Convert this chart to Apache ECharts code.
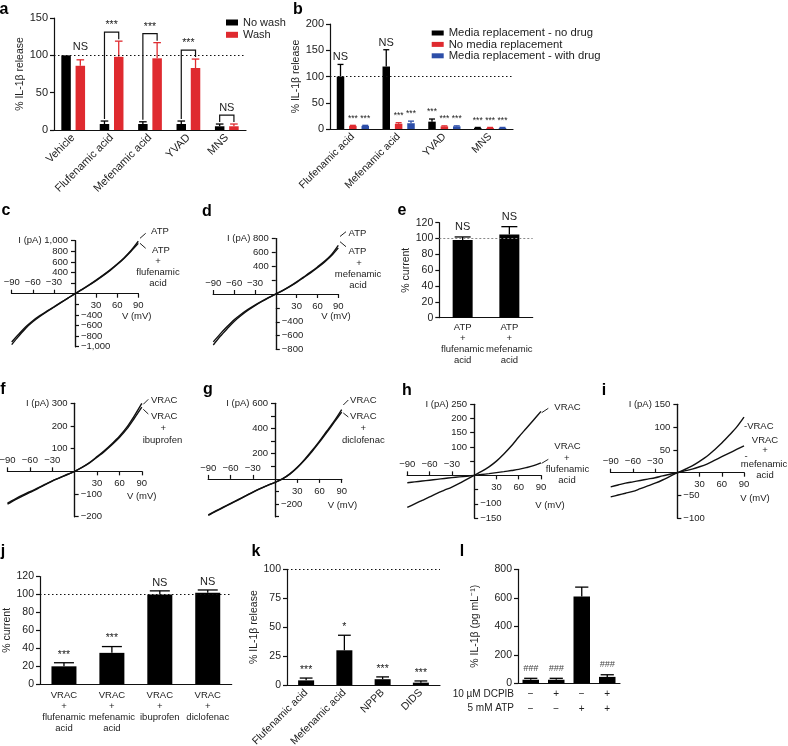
<!DOCTYPE html>
<html><head><meta charset="utf-8">
<script src="https://cdn.jsdelivr.net/npm/echarts@6/dist/echarts.min.js"></script>
<style>html,body{margin:0;padding:0;background:#fff}#chart{width:788px;height:746px}</style>
</head><body><div id="chart"></div>
<script>
// ---------------- DATA ----------------
// Panel a
const aCategories = ['Vehicle', 'Flufenamic acid', 'Mefenamic acid', 'YVAD', 'MNS'];
const aNoWash = [100, 8, 8, 8, 5];
const aNoWashErr = [0, 4, 3, 4, 3];
const aWash = [86, 98, 96, 83, 5];
const aWashErr = [8, 21, 21, 12, 3];
const aWashSig = ['NS', '', '', '', ''];
const aBracketCats = [1, 2, 3, 4];
const aBracketText = ['***', '***', '***', 'NS'];
const aYTicks = [0, 50, 100, 150];
// Panel b
const bCategories = ['Flufenamic acid', 'Mefenamic acid', 'YVAD', 'MNS'];
const bNoDrug = [100, 119, 14, 2];
const bNoDrugErr = [23, 32, 5, 1];
const bNoDrugSig = ['NS', 'NS', '***', '***'];
const bNoReplace = [6, 10, 5, 2];
const bNoReplaceErr = [1, 2, 1, 1];
const bNoReplaceSig = ['***', '***', '***', '***'];
const bWithDrug = [6, 11, 5, 2];
const bWithDrugErr = [1, 4, 1, 1];
const bWithDrugSig = ['***', '***', '***', '***'];
const bYTicks = [0, 50, 100, 150, 200];
// Current-voltage traces (V in mV, I in pA)
const ivVoltage = [-90, -80, -70, -60, -50, -40, -30, -20, -10, 0, 10, 20, 30, 40, 50, 60, 70, 80, 90];
const cATP = [-960, -800, -650, -530, -430, -340, -255, -170, -85, 0, 80, 165, 255, 350, 450, 560, 680, 820, 990];
const cATPFluf = [-910, -765, -625, -510, -415, -330, -248, -165, -82, 0, 78, 160, 248, 340, 440, 550, 670, 805, 950];
const dATP = [-735, -610, -500, -395, -310, -235, -168, -108, -52, 0, 52, 110, 175, 245, 315, 390, 470, 565, 700];
const dATPMef = [-690, -575, -470, -372, -292, -222, -160, -103, -50, 0, 50, 106, 168, 236, 305, 378, 458, 550, 665];
const fVRAC = [-145, -126, -109, -93, -77, -60, -43, -29, -14, 0, 18, 39, 65, 92, 122, 155, 195, 245, 300];
const fVRACIbu = [-140, -122, -105, -90, -74, -58, -42, -28, -14, 0, 17, 37, 62, 88, 117, 149, 187, 234, 283];
const gVRAC = [-290, -258, -228, -198, -168, -137, -106, -78, -52, -27, 0, 40, 92, 155, 225, 300, 380, 460, 550];
const gVRACDiclo = [-285, -254, -224, -195, -165, -135, -104, -77, -51, -27, 0, 38, 89, 150, 218, 292, 370, 450, 530];
const hVRAC = [-113, -100, -88, -76, -63, -52, -41, -28, -14, 0, 14, 30, 50, 75, 103, 135, 165, 195, 225];
const hVRACFluf = [-26, -23, -20, -17, -14, -11, -8, -5.5, -3, 0, 3, 6, 9.5, 13, 17, 21, 27, 34, 44];
const iVRAC = [-53, -49, -45, -41, -35, -29, -23, -16, -8, 0, 7, 15, 25, 36, 50, 65, 82, 100, 122];
const iVRACMef = [-31, -27, -23, -20, -17, -14, -11, -7, -3.5, 0, 4, 8, 13, 19, 27, 35, 43, 51, 59];
const ivXNeg = [-90, -60, -30];
const ivXPos = [30, 60, 90];
// Panel e
const eCategories = ['ATP\n+\nflufenamic\nacid', 'ATP\n+\nmefenamic\nacid'];
const eCurrent = [98, 105];
const eErr = [4, 10];
const eSig = ['NS', 'NS'];
const eYTicks = [0, 20, 40, 60, 80, 100, 120];
// Panel j
const jCategories = ['VRAC\n+\nflufenamic\nacid', 'VRAC\n+\nmefenamic\nacid', 'VRAC\n+\nibuprofen', 'VRAC\n+\ndiclofenac'];
const jCurrent = [20, 35, 100, 102];
const jErr = [4, 7, 4, 3];
const jSig = ['***', '***', 'NS', 'NS'];
const jYTicks = [0, 20, 40, 60, 80, 100, 120];
// Panel k
const kCategories = ['Flufenamic acid', 'Mefenamic acid', 'NPPB', 'DIDS'];
const kRelease = [4, 30, 5, 2];
const kErr = [2, 13, 2, 1.5];
const kSig = ['***', '*', '***', '***'];
const kYTicks = [0, 25, 50, 75, 100];
// Panel l
const lDCPIB = ['\u2212', '+', '\u2212', '+'];
const lATP = ['\u2212', '\u2212', '+', '+'];
const lIL1b = [25, 25, 610, 45];
const lErr = [10, 10, 65, 15];
const lSig = ['###', '###', '', '###'];
const lYTicks = [0, 200, 400, 600, 800];

// ---------------- BUILD ----------------
const FONT = '"Liberation Sans", Arial, Helvetica, sans-serif';
const INK = '#111';
const TXT = '#222';
const RED = '#df2a2f';
const BLUE = '#2d4ea8';
const grids = [], xAxes = [], yAxes = [], series = [], graphics = [];

function fmtNum(v) {
  const s = String(Math.abs(v)).replace(/\B(?=(\d{3})+(?!\d))/g, ',');
  return (v < 0 ? '\u2212' : '') + s;
}
function addGrid(box) {
  grids.push({left: box[0], top: box[1], width: box[2], height: box[3],
    containLabel: false, outerBoundsMode: 'none'});
  return grids.length - 1;
}

function barPanel(p) {
  const gi = addGrid(p.box);
  const xi = xAxes.length, yi = yAxes.length;
  xAxes.push({type: 'category', gridIndex: gi, data: p.categories,
    axisLine: {onZero: false, lineStyle: {color: INK, width: 1.2}}, axisTick: {show: false},
    axisLabel: {interval: 0, rotate: p.rotate || 0, fontSize: p.catFont || 10.5, color: TXT,
      margin: p.catMargin == null ? 6 : p.catMargin, lineHeight: p.catLineHeight || 11, fontFamily: FONT}});
  yAxes.push({type: 'value', gridIndex: gi, min: p.yTicks[0], max: p.yTicks[p.yTicks.length - 1],
    interval: p.yTicks[1] - p.yTicks[0],
    axisLine: {show: true, lineStyle: {color: INK, width: 1.2}},
    axisTick: {show: true, length: 4, lineStyle: {color: INK, width: 1.2}},
    axisLabel: {fontSize: p.tickFont || 10.5, color: TXT, margin: 6, fontFamily: FONT}, splitLine: {show: false},
    name: p.yName, nameLocation: 'middle', nameGap: p.nameGap,
    nameTextStyle: {fontSize: 10.5, color: TXT, fontFamily: FONT}});
  const n = p.groups.length, w = p.barWidth, g = p.barGap || 0;
  const total = n * w + (n - 1) * g * w;
  const offs = p.groups.map((_, k) => -total / 2 + w / 2 + k * w * (1 + g));
  p.groups.forEach((grp, k) => {
    const s = {type: 'bar', name: grp.name, xAxisIndex: xi, yAxisIndex: yi, data: grp.values,
      barWidth: w, barGap: (g * 100) + '%', itemStyle: {color: grp.color}, z: 2, silent: true};
    if (k === 0 && p.refLine) {
      s.markLine = {silent: true, symbol: 'none', label: {show: false},
        lineStyle: p.refLine.style, data: [{yAxis: p.refLine.value}]};
    }
    series.push(s);
  });
  p.groups.forEach((grp, k) => {
    series.push({type: 'custom', xAxisIndex: xi, yAxisIndex: yi, z: 3, silent: true,
      data: grp.values.map((v, i) => [i, v, grp.errors[i]]), encode: {x: 0, y: 1},
      renderItem: (params, api) => {
        const e = api.value(2);
        if (!e) return null;
        const b = api.coord([api.value(0), api.value(1)]);
        const t = api.coord([api.value(0), api.value(1) + e]);
        const x = b[0] + offs[k], c = w * 0.4;
        const st = {stroke: grp.color, lineWidth: 1.3};
        return {type: 'group', children: [
          {type: 'line', shape: {x1: x, y1: b[1], x2: x, y2: t[1]}, style: st},
          {type: 'line', shape: {x1: x - c, y1: t[1], x2: x + c, y2: t[1]}, style: st}]};
      }});
  });
  p.groups.forEach((grp, k) => {
    if (!grp.sig) return;
    series.push({type: 'custom', xAxisIndex: xi, yAxisIndex: yi, z: 4, silent: true,
      data: grp.values.map((v, i) => [i, v + grp.errors[i]]), encode: {x: 0, y: 1},
      renderItem: (params, api) => {
        const s = grp.sig[params.dataIndex];
        if (!s) return null;
        const pt = api.coord([api.value(0), api.value(1)]);
        const star = s.indexOf('*') >= 0, hash = s.indexOf('#') >= 0;
        return {type: 'text', x: pt[0] + offs[k], y: pt[1] - (p.sigGap || 7),
          style: {text: s, fontSize: star ? p.starFont : (hash ? 9 : p.nsFont), fontFamily: FONT,
            fontStyle: hash ? 'italic' : 'normal',
            fill: hash ? '#444' : TXT, align: 'center', verticalAlign: 'middle',
            textAlign: 'center', textVerticalAlign: 'middle'}};
      }});
  });
  return {xi, yi, gi, offs};
}

// Current-voltage panel: axes cross at the origin (V = 0, I = 0)
function ivPanel(p) {
  const gi = addGrid(p.box);
  const width = p.box[2], height = p.box[3];
  const yFracAboveZero = p.y[1] / (p.y[1] - p.y[0]);
  const lineStyle = {color: INK, width: 1.2};
  const lbl = {fontSize: 9.5, color: TXT, fontFamily: FONT, formatter: fmtNum};
  xAxes.push({type: 'value', gridIndex: gi, position: 'top', min: -90, max: 90,
    offset: -height * yFracAboveZero,
    axisLine: {onZero: false, lineStyle}, splitLine: {show: false},
    axisTick: {customValues: ivXNeg, length: 4, lineStyle},
    axisLabel: Object.assign({customValues: ivXNeg, margin: 6}, lbl)});
  const xBot = xAxes.length;
  xAxes.push({type: 'value', gridIndex: gi, position: 'bottom', min: -90, max: 90,
    offset: -height * (1 - yFracAboveZero),
    axisLine: {onZero: false, lineStyle}, splitLine: {show: false},
    axisTick: {customValues: ivXPos, length: 4, lineStyle},
    axisLabel: Object.assign({customValues: ivXPos, margin: 7}, lbl)});
  const yL = yAxes.length;
  yAxes.push({type: 'value', gridIndex: gi, position: 'left', min: p.y[0], max: p.y[1],
    offset: -width / 2,
    axisLine: {onZero: false, lineStyle}, splitLine: {show: false},
    axisTick: {customValues: p.leftTicks, length: 4, lineStyle},
    axisLabel: Object.assign({}, lbl, {customValues: p.leftLabels, margin: 7,
      formatter: v => (v === p.y[1] ? 'I (pA) ' : '') + fmtNum(v)})});
  yAxes.push({type: 'value', gridIndex: gi, position: 'right', min: p.y[0], max: p.y[1],
    offset: -width / 2,
    axisLine: {onZero: false, lineStyle}, splitLine: {show: false},
    axisTick: {customValues: p.rightTicks, length: 4, lineStyle},
    axisLabel: Object.assign({customValues: p.rightLabels, margin: 6}, lbl)});
  p.traces.forEach(tr => {
    series.push({type: 'line', xAxisIndex: xBot, yAxisIndex: yL, silent: true,
      data: ivVoltage.map((v, i) => [v, tr[i]]), smooth: 0.3, showSymbol: false,
      lineStyle: {color: INK, width: 1.4}, z: 3});
  });
}

function txt(x, y, s, opt) {
  opt = opt || {};
  graphics.push({type: 'text', x: x, y: y, silent: true,
    style: {text: s, fontSize: opt.size || 9.5, fontWeight: opt.bold ? 'bold' : 'normal', fontFamily: FONT,
      fill: opt.color || TXT, align: opt.align || 'center', verticalAlign: 'middle',
      textAlign: opt.align || 'center', textVerticalAlign: 'middle'}});
}
function seg(x1, y1, x2, y2) {
  graphics.push({type: 'line', silent: true, shape: {x1, y1, x2, y2}, style: {stroke: '#222', lineWidth: 1}});
}

const dotted = {color: INK, width: 1.2, type: [1.5, 2.5]};

// ---- a ----
const aAx = barPanel({box: [54, 18, 192, 112], categories: aCategories, yTicks: aYTicks,
  yName: '% IL-1\u03b2 release', nameGap: 26, rotate: 45, catFont: 11, tickFont: 11, barWidth: 9.5, barGap: 0.5,
  sigGap: 13, nsFont: 11, starFont: 10.5, refLine: {value: 100, style: dotted},
  groups: [
    {name: 'No wash', values: aNoWash, errors: aNoWashErr, color: '#000'},
    {name: 'Wash', values: aWash, errors: aWashErr, color: RED, sig: aWashSig}]});
series.push({type: 'custom', xAxisIndex: aAx.xi, yAxisIndex: aAx.yi, silent: true, z: 4,
  data: aBracketCats.map(c => [c, aNoWash[c] + aNoWashErr[c], aWash[c] + aWashErr[c]]),
  encode: {x: 0, y: [1, 2]},
  renderItem: (params, api) => {
    const c = api.value(0);
    const L = api.coord([c, api.value(1)]), R = api.coord([c, api.value(2)]);
    const xl = L[0] + aAx.offs[0], xr = R[0] + aAx.offs[1];
    const yTop = Math.min(L[1], R[1]) - 9;
    const s = aBracketText[params.dataIndex];
    return {type: 'group', children: [
      {type: 'polyline', shape: {points: [[xl, L[1] - 2], [xl, yTop], [xr, yTop], [xr, R[1] - 2]]},
        style: {stroke: INK, lineWidth: 1.2, fill: null}},
      {type: 'text', x: (xl + xr) / 2, y: yTop - 7,
        style: {text: s, fontSize: s === 'NS' ? 11 : 10.5, fontFamily: FONT, fill: TXT,
          align: 'center', verticalAlign: 'middle', textAlign: 'center', textVerticalAlign: 'middle'}}]};
  }});

// ---- b ----
barPanel({box: [330, 24, 183, 105], categories: bCategories, yTicks: bYTicks,
  yName: '% IL-1\u03b2 release', nameGap: 25, rotate: 45, catFont: 10.5, tickFont: 11, barWidth: 7.5, barGap: 0.65,
  sigGap: 7, nsFont: 11, starFont: 8.5, refLine: {value: 100, style: dotted},
  groups: [
    {name: 'Media replacement - no drug', values: bNoDrug, errors: bNoDrugErr, color: '#000', sig: bNoDrugSig},
    {name: 'No media replacement', values: bNoReplace, errors: bNoReplaceErr, color: RED, sig: bNoReplaceSig},
    {name: 'Media replacement - with drug', values: bWithDrug, errors: bWithDrugErr, color: BLUE, sig: bWithDrugSig}]});

// ---- c, d ----
ivPanel({box: [11.7, 240.7, 126.6, 106], y: [-1000, 1000],
  leftTicks: [200, 400, 600, 800, 1000], leftLabels: [400, 600, 800, 1000],
  rightTicks: [-200, -400, -600, -800, -1000], rightLabels: [-400, -600, -800, -1000],
  traces: [cATP, cATPFluf]});
ivPanel({box: [213.3, 238.5, 125, 111], y: [-800, 800],
  leftTicks: [200, 400, 600, 800], leftLabels: [400, 600, 800],
  rightTicks: [-200, -400, -600, -800], rightLabels: [-400, -600, -800],
  traces: [dATP, dATPMef]});

// ---- e ----
barPanel({box: [439.3, 222.7, 93.4, 95], categories: eCategories, yTicks: eYTicks,
  yName: '% current', nameGap: 27, catFont: 9.5, tickFont: 10.5, catMargin: 4, catLineHeight: 11,
  barWidth: 20, sigGap: 10, nsFont: 11, starFont: 10,
  refLine: {value: 100, style: {color: '#888', width: 1, type: [2, 2]}},
  groups: [{name: 'e', values: eCurrent, errors: eErr, color: '#000', sig: eSig}]});

// ---- f, g, h, i ----
ivPanel({box: [7.5, 403.3, 134.3, 113.4], y: [-200, 300],
  leftTicks: [100, 200, 300], leftLabels: [100, 200, 300],
  rightTicks: [-100, -200], rightLabels: [-100, -200], traces: [fVRAC, fVRACIbu]});
ivPanel({box: [208.3, 403.3, 133.4, 113.4], y: [-300, 600],
  leftTicks: [100, 200, 300, 400, 500, 600], leftLabels: [200, 400, 600],
  rightTicks: [-100, -200, -300], rightLabels: [-200], traces: [gVRAC, gVRACDiclo]});
ivPanel({box: [407.3, 404.3, 133.7, 113.7], y: [-150, 250],
  leftTicks: [50, 100, 150, 200, 250], leftLabels: [100, 150, 200, 250],
  rightTicks: [-50, -100, -150], rightLabels: [-100, -150], traces: [hVRAC, hVRACFluf]});
ivPanel({box: [610.7, 404.3, 133.3, 114], y: [-100, 150],
  leftTicks: [50, 100, 150], leftLabels: [50, 100, 150],
  rightTicks: [-50, -100], rightLabels: [-50, -100], traces: [iVRAC, iVRACMef]});

// ---- j ----
barPanel({box: [40, 576.5, 191.7, 107.8], categories: jCategories, yTicks: jYTicks,
  yName: '% current', nameGap: 25.5, catFont: 9.5, tickFont: 10.5, catMargin: 6, catLineHeight: 11,
  barWidth: 25, sigGap: 8, nsFont: 11, starFont: 10.5, refLine: {value: 100, style: dotted},
  groups: [{name: 'j', values: jCurrent, errors: jErr, color: '#000', sig: jSig}]});
// ---- k ----
barPanel({box: [287, 569.3, 153, 115.7], categories: kCategories, yTicks: kYTicks,
  yName: '% IL-1\u03b2 release', nameGap: 18, rotate: 45, catFont: 10.5, tickFont: 10.5,
  barWidth: 16, sigGap: 8, nsFont: 11, starFont: 10.5, refLine: {value: 100, style: dotted},
  groups: [{name: 'k', values: kRelease, errors: kErr, color: '#000', sig: kSig}]});
// ---- l ----
barPanel({box: [518, 569.3, 102, 114], categories: lDCPIB.map((d, i) => d + '\n' + lATP[i]), yTicks: lYTicks,
  yName: '% IL-1\u03b2 (pg mL\u207b\u00b9)', nameGap: 37, catFont: 10, tickFont: 10.5, catMargin: 4, catLineHeight: 14.3,
  barWidth: 16.5, sigGap: 10, nsFont: 11, starFont: 10,
  groups: [{name: 'l', values: lIL1b, errors: lErr, color: '#000', sig: lSig}]});

// ---------------- TEXT ----------------
[['a', 4, 10], ['b', 298, 10], ['c', 6, 211], ['d', 207, 212], ['e', 402, 211], ['f', 3, 390],
 ['g', 208, 390], ['h', 407, 391], ['i', 604, 391], ['j', 3, 552], ['k', 256, 552], ['l', 462, 552]]
  .forEach(t => txt(t[1], t[2], t[0], {size: 16, bold: true, color: '#000'}));

txt(136.7, 316.7, 'V (mV)'); txt(336, 316.7, 'V (mV)'); txt(141.7, 496.7, 'V (mV)');
txt(342.5, 505.7, 'V (mV)'); txt(550, 505, 'V (mV)'); txt(755, 498.3, 'V (mV)');
// c
txt(151, 231, 'ATP', {align: 'left'}); txt(161, 250, 'ATP'); txt(158, 261.5, '+'); txt(158, 272, 'flufenamic'); txt(158, 283, 'acid');
seg(140, 238.3, 145.7, 233.3); seg(140, 243.3, 145.7, 248.3);
// d
txt(357.5, 233, 'ATP'); txt(357.5, 251.7, 'ATP'); txt(359, 263, '+'); txt(358, 274, 'mefenamic'); txt(358, 285, 'acid');
seg(340, 236.5, 346, 231.7); seg(340, 241.7, 346, 246.7);
// f
txt(164.2, 400, 'VRAC'); txt(164.2, 416.7, 'VRAC'); txt(163.3, 428.3, '+'); txt(162.5, 440, 'ibuprofen');
seg(143.3, 404.3, 148.3, 399.3); seg(143.3, 409.3, 148.3, 414);
// g
txt(363.3, 400, 'VRAC'); txt(363.3, 416.7, 'VRAC'); txt(363.3, 428.3, '+'); txt(363.3, 440, 'diclofenac');
seg(343.3, 405, 348.3, 400); seg(343.3, 413, 348.3, 417);
// h
txt(567.5, 407.7, 'VRAC'); txt(567.5, 446.7, 'VRAC'); txt(566.7, 458.3, '+'); txt(567.5, 469.3, 'flufenamic'); txt(567, 480, 'acid');
seg(541.7, 412.7, 548.3, 408.3); seg(541.7, 463.3, 548.3, 459.3);
// i
txt(744, 426.7, '-VRAC', {align: 'left'}); txt(765, 440.5, 'VRAC'); txt(765, 450.5, '+'); txt(764, 464, 'mefenamic'); txt(765, 475, 'acid');
txt(746, 456, '-');
// l row labels
txt(514, 694, '10 \u00b5M DCPIB', {align: 'right', size: 10}); txt(514, 708.3, '5 mM ATP', {align: 'right', size: 10});

const chart = echarts.init(document.getElementById('chart'), null, {renderer: 'canvas'});
chart.setOption({
  animation: false,
  backgroundColor: '#fff',
  textStyle: {fontFamily: FONT},
  grid: grids,
  xAxis: xAxes,
  yAxis: yAxes,
  legend: [
    {left: 221, top: 12, orient: 'vertical', icon: 'rect', itemWidth: 12, itemHeight: 6, itemGap: 1.3,
      data: ['No wash', 'Wash'], textStyle: {fontSize: 11, color: TXT}, selectedMode: false},
    {left: 426.7, top: 22.5, orient: 'vertical', icon: 'rect', itemWidth: 12, itemHeight: 5, itemGap: 0.4,
      data: ['Media replacement - no drug', 'No media replacement', 'Media replacement - with drug'],
      textStyle: {fontSize: 11.3, color: TXT}, selectedMode: false}],
  series: series,
  graphic: {elements: graphics}
});
</script></body></html>
